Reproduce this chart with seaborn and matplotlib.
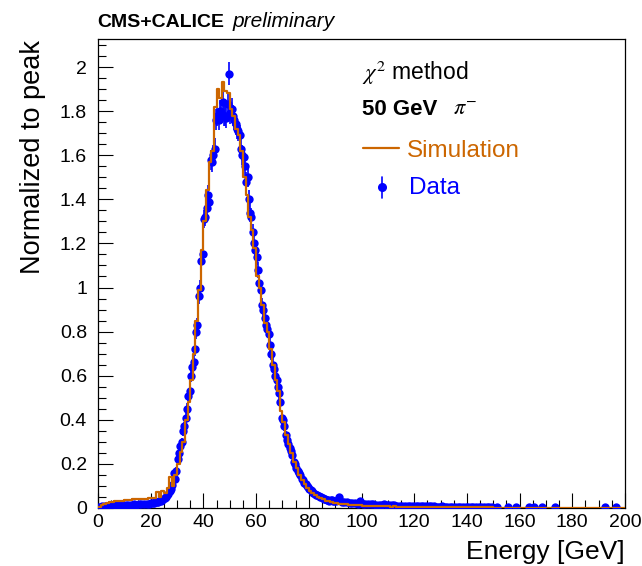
import numpy as np
import pandas as pd
import matplotlib
matplotlib.use("Agg")
import matplotlib.pyplot as plt
from matplotlib.ticker import MultipleLocator, FuncFormatter
import seaborn as sns

# ---------------- data ----------------
# Simulation histogram: 1 GeV bins, lower edges 0..199
sim_values = [
    0.004, 0.012, 0.018, 0.022, 0.025, 0.027, 0.030, 0.031, 0.033, 0.034,
    0.036, 0.038, 0.037, 0.040, 0.039, 0.041, 0.042, 0.043, 0.042, 0.044,
    0.045, 0.047, 0.072, 0.052, 0.075, 0.068, 0.090, 0.140, 0.100, 0.150,
    0.200, 0.255, 0.300, 0.400, 0.480, 0.580, 0.700, 0.850, 0.990, 1.170,
    1.300, 1.440, 1.570, 1.620, 1.820, 1.900, 1.860, 1.930, 1.890, 1.880,
    1.810, 1.780, 1.720, 1.690, 1.620, 1.500, 1.420, 1.320, 1.260, 1.180,
    1.050, 1.000, 0.920, 0.840, 0.800, 0.720, 0.650, 0.580, 0.530, 0.440,
    0.390, 0.330, 0.290, 0.250, 0.210, 0.180, 0.150, 0.125, 0.110, 0.090,
    0.078, 0.068, 0.058, 0.050, 0.046, 0.040, 0.034, 0.030, 0.028, 0.024,
    0.022, 0.020, 0.018, 0.019, 0.016, 0.015, 0.014, 0.013, 0.012, 0.012,
    0.011, 0.010, 0.010, 0.009, 0.009, 0.008, 0.009, 0.007, 0.008, 0.007,
    0.007, 0.006, 0.007, 0.006, 0.006, 0.005, 0.006, 0.005, 0.005, 0.005,
    0.005, 0.004, 0.005, 0.004, 0.004, 0.004, 0.004, 0.003, 0.004, 0.003,
    0.003, 0.003, 0.003, 0.003, 0.003, 0.003, 0.003, 0.003, 0.003, 0.003,
    0.003, 0.003, 0.003, 0.003, 0.003, 0.003, 0.003, 0.003, 0.003, 0.003,
    0.002, 0.002, 0.002, 0.002, 0.002, 0.002, 0.002, 0.002, 0.002, 0.002,
    0.002, 0.002, 0.002, 0.002, 0.002, 0.002, 0.002, 0.002, 0.002, 0.002,
    0.002, 0.002, 0.002, 0.002, 0.002, 0.002, 0.002, 0.002, 0.002, 0.002,
    0.002, 0.002, 0.002, 0.002, 0.002, 0.002, 0.002, 0.002, 0.002, 0.002,
    0.002, 0.002, 0.002, 0.002, 0.002, 0.002, 0.002, 0.002, 0.002, 0.002,
]
sim_edges = np.arange(0, 201, 1)

# Data points: bin centres
data_x = np.concatenate([
    np.arange(0.5, 20, 1.0),        # 0-20 GeV, 1 GeV bins
    np.arange(20.25, 90, 0.5),      # 20-90 GeV, 0.5 GeV bins
    np.arange(90.5, 150, 1.0),      # 90-150 GeV, 1 GeV bins
    [151.5, 155.5, 158.5, 163.5, 165.5, 168.5, 173.5, 192.5, 196.5],
])
data_y = [
    # 0-20
    0.003, 0.007, 0.009, 0.010, 0.011, 0.012, 0.012, 0.013, 0.014, 0.013,
    0.014, 0.015, 0.014, 0.016, 0.015, 0.017, 0.016, 0.018, 0.019, 0.020,
    # 20-90 (two per GeV)
    0.021, 0.022, 0.023, 0.025, 0.026, 0.028, 0.030, 0.033, 0.036, 0.040,
    0.045, 0.050, 0.058, 0.065, 0.075, 0.085, 0.105, 0.160, 0.130, 0.170,
    0.220, 0.250, 0.280, 0.300, 0.350, 0.370, 0.410, 0.450, 0.510, 0.530,
    0.600, 0.640, 0.660, 0.720, 0.800, 0.830, 0.960, 1.000, 1.120, 1.150,
    1.310, 1.320, 1.360, 1.420, 1.390, 1.580, 1.570, 1.600, 1.630, 1.760,
    1.780, 1.760, 1.800, 1.790, 1.840, 1.780, 1.780, 1.770, 1.830, 1.970,
    1.790, 1.810, 1.780, 1.760, 1.740, 1.720, 1.710, 1.690, 1.630, 1.600,
    1.590, 1.550, 1.480, 1.500, 1.400, 1.340, 1.320, 1.250, 1.200, 1.170,
    1.140, 1.080, 1.020, 0.990, 0.920, 0.900, 0.860, 0.830, 0.810, 0.790,
    0.740, 0.700, 0.650, 0.630, 0.600, 0.580, 0.550, 0.520, 0.480, 0.410,
    0.400, 0.370, 0.330, 0.310, 0.290, 0.270, 0.260, 0.240, 0.210, 0.200,
    0.180, 0.170, 0.160, 0.150, 0.130, 0.125, 0.115, 0.110, 0.100, 0.095,
    0.085, 0.080, 0.075, 0.070, 0.065, 0.060, 0.058, 0.055, 0.050, 0.048,
    0.045, 0.043, 0.040, 0.038, 0.036, 0.034, 0.035, 0.038, 0.033, 0.030,
    # 90-150
    0.030, 0.052, 0.028, 0.026, 0.025, 0.024, 0.022, 0.021, 0.020, 0.034,
    0.019, 0.018, 0.017, 0.017, 0.016, 0.015, 0.015, 0.014, 0.020, 0.013,
    0.013, 0.012, 0.012, 0.011, 0.011, 0.010, 0.010, 0.010, 0.009, 0.009,
    0.009, 0.008, 0.008, 0.008, 0.008, 0.007, 0.007, 0.007, 0.006, 0.006,
    0.007, 0.006, 0.006, 0.006, 0.005, 0.006, 0.005, 0.005, 0.005, 0.006,
    0.005, 0.005, 0.004, 0.005, 0.004, 0.004, 0.005, 0.004, 0.004, 0.004,
    # sparse tail
    0.004, 0.004, 0.004, 0.004, 0.004, 0.004, 0.004, 0.004, 0.004,
]
data_err_scale = 0.036   # statistical (Poisson-like) uncertainty scale

x_ticks = [0, 20, 40, 60, 80, 100, 120, 140, 160, 180, 200]
y_ticks = [0, 0.2, 0.4, 0.6, 0.8, 1.0, 1.2, 1.4, 1.6, 1.8, 2.0]

# ---------------- style ----------------
sns.set_theme(style="ticks")
plt.rcParams['font.family'] = ['Liberation Sans', 'DejaVu Sans']
plt.rcParams['mathtext.fontset'] = 'stix'
plt.rcParams['text.color'] = 'black'
plt.rcParams['axes.labelcolor'] = 'black'

SIM_COLOR = '#cc6600'
DATA_COLOR = '#0000ff'

W, H = 642, 566
fig = plt.figure(figsize=(W / 100, H / 100), dpi=100)
ax = fig.add_axes([98 / W, 58 / H, 527 / W, 469 / H])

sim_df = pd.DataFrame({"E": sim_edges, "v": sim_values + [sim_values[-1]]})
data_df = pd.DataFrame({"E": data_x, "v": data_y})
data_df["err"] = data_err_scale * np.sqrt(data_df["v"])

# data: error bars + markers
ax.errorbar(data_df["E"], data_df["v"], yerr=data_df["err"], fmt='none',
            ecolor=DATA_COLOR, elinewidth=1.2, zorder=2)
sns.scatterplot(data=data_df, x="E", y="v", ax=ax, color=DATA_COLOR, s=36,
                edgecolor=DATA_COLOR, linewidth=0, zorder=3, legend=False)

# simulation step histogram
sns.lineplot(data=sim_df, x="E", y="v", ax=ax, color=SIM_COLOR, linewidth=1.6,
             drawstyle='steps-post', zorder=4, legend=False, errorbar=None,
             estimator=None)

ax.set_xlim(0, 200)
ax.set_ylim(0, 2.127)
ax.set_xlabel("")
ax.set_ylabel("")

ax.set_xticks(x_ticks)
ax.set_yticks(y_ticks)
ax.xaxis.set_minor_locator(MultipleLocator(5))
ax.yaxis.set_minor_locator(MultipleLocator(0.05))
ax.yaxis.set_major_formatter(FuncFormatter(lambda v, _: f"{round(v, 2):g}"))
ax.xaxis.set_major_formatter(FuncFormatter(lambda v, _: f"{round(v):g}"))

ax.tick_params(which='major', direction='in', length=11, width=0.8,
               top=False, right=False, labelsize=14, colors='black')
ax.tick_params(which='minor', direction='in', length=6, width=0.8,
               top=False, right=False, colors='black')
ax.tick_params(axis='y', which='major', pad=8)
ax.tick_params(axis='x', which='major', pad=4)
for s in ax.spines.values():
    s.set_visible(True)
    s.set_color('black')
    s.set_linewidth(0.9)
ax.set_facecolor('white')

# axis titles
fig.text(625 / W, 1 - 559 / H, "Energy [GeV]", ha='right', va='baseline',
         fontsize=19, color='black')
fig.text(46 / W, 1 - 40 / H, "Normalized to peak", rotation=90,
         rotation_mode='anchor', ha='right', va='bottom', fontsize=19.5,
         color='black')

# header
fig.text(97 / W, 1 - 27 / H, "CMS+CALICE", ha='left', va='baseline',
         fontsize=14, fontweight='bold', color='black')
fig.text(233 / W, 1 - 27 / H, "preliminary", ha='left', va='baseline',
         fontsize=15, fontstyle='italic', color='black')

# legend / annotations
fig.text(362 / W, 1 - 80 / H, r"$\chi^{2}$ method", ha='left', va='baseline',
         fontsize=16.5, color='black')
fig.text(362 / W, 1 - 115 / H, "50 GeV", ha='left', va='baseline',
         fontsize=16, fontweight='bold', color='black')
fig.text(453 / W, 1 - 115 / H, r"$\pi^{-}$", ha='left', va='baseline',
         fontsize=16, color='black')

fig.lines.append(plt.Line2D([363 / W, 399 / W], [1 - 148 / H, 1 - 148 / H],
                            transform=fig.transFigure, color=SIM_COLOR,
                            linewidth=1.6))
fig.text(407 / W, 1 - 157 / H, "Simulation", ha='left', va='baseline',
         fontsize=17.5, color=SIM_COLOR)
fig.lines.append(plt.Line2D([382 / W, 382 / W], [1 - 177 / H, 1 - 198 / H],
                            transform=fig.transFigure, color=DATA_COLOR,
                            linewidth=1.2))
fig.lines.append(plt.Line2D([382 / W], [1 - 187 / H], transform=fig.transFigure,
                            color=DATA_COLOR, marker='o', markersize=5.5,
                            linestyle='none'))
fig.text(409 / W, 1 - 194 / H, "Data", ha='left', va='baseline',
         fontsize=17.5, color=DATA_COLOR)

fig.savefig("out.png", dpi=100, facecolor='white')
